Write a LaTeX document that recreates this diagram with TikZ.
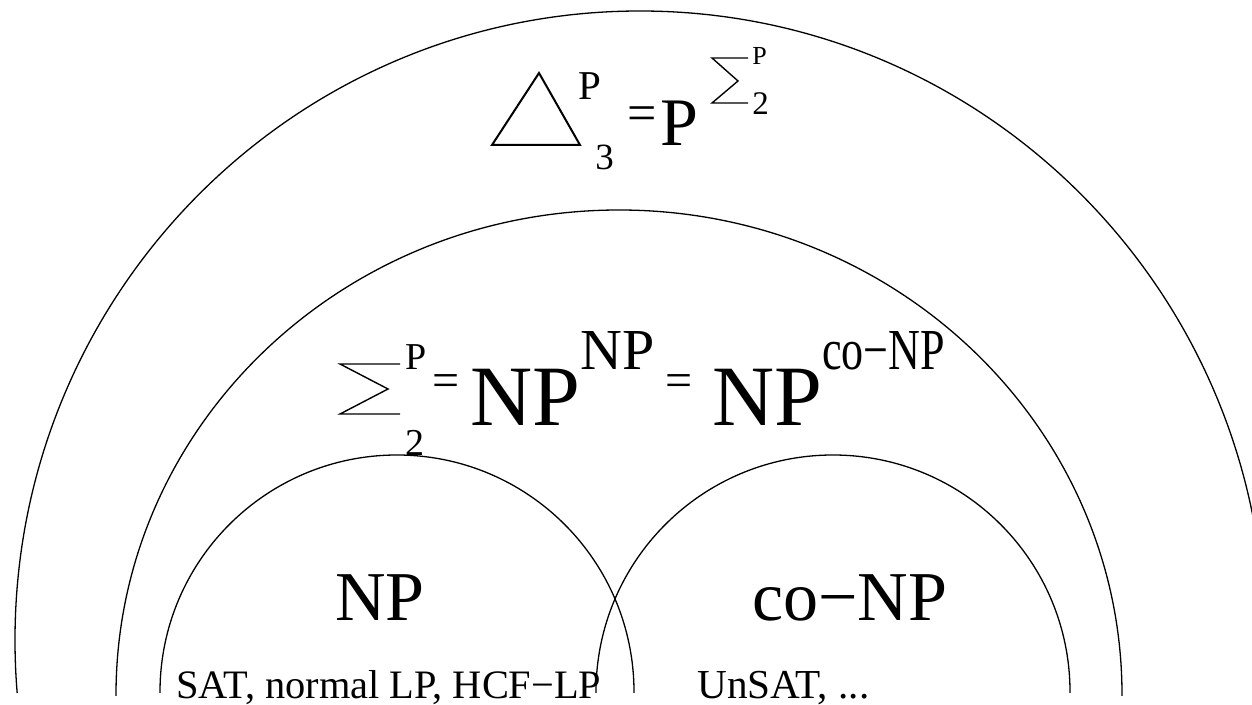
\documentclass[tikz,border=0pt]{standalone}
\usepackage{fontspec}
\setmainfont{Liberation Serif}
\newcommand{\fs}[1]{\fontsize{#1}{#1}\selectfont}
\begin{document}
\begin{tikzpicture}[x=0.5pt,y=-0.5pt,
  lbl/.style={inner sep=0pt, anchor=base west},
  arcline/.style={line width=0.65pt},
  symline/.style={line width=0.7pt, line join=miter}]
\useasboundingbox (0,0) rectangle (1252,705);
% outer class
\begin{scope}
  \clip (0,0) rectangle (1252,692);
  \draw[arcline] (640,640) ellipse [x radius=625, y radius=629];
\end{scope}
% Sigma_2^P
\begin{scope}
  \clip (0,0) rectangle (1252,695);
  \draw[arcline] (619,695) ellipse [x radius=503, y radius=485];
\end{scope}
% NP
\begin{scope}
  \clip (0,0) rectangle (1252,692);
  \draw[arcline] (397,692) circle [radius=237];
\end{scope}
% co-NP
\begin{scope}
  \clip (0,0) rectangle (1252,692);
  \draw[arcline] (833,692) circle [radius=237];
\end{scope}
% formula 1
\draw[line width=1pt, line join=miter] (492,145) -- (580,145) -- (539,73) -- cycle;
\node[lbl, font=\fs{20.5}] (t1p) at (578,100) {P};
\node[lbl, font=\fs{18.5}] (t13) at (595,170) {3};
\node[lbl, font=\fs{26}] (t1eq) at (627,131) {=};
\node[lbl, font=\fs{34}] (t1P) at (660,146) {P};
\draw[symline] (748,58) -- (712,58) -- (738,81) -- (712,103) -- (748,103);
\node[lbl, font=\fs{13}] (t1sp) at (752,65) {P};
\node[lbl, font=\fs{16.5}] (t1s2) at (752,115) {2};
% formula 2
\draw[symline] (400,364) -- (340,364) -- (388,389) -- (340,414) -- (400,414);
\node[lbl, font=\fs{19}] (t2p) at (405,370) {P};
\node[lbl, font=\fs{19}] (t22) at (405,455) {2};
\node[lbl, font=\fs{24}] (t2eq) at (432,397) {=};
\node[lbl, font=\fs{43}] (t2np) at (470,425) {NP};
\node[lbl, font=\fs{29}] (t2nps) at (580,370) {NP};
\node[lbl, font=\fs{24}] (t2eqb) at (665,397) {=};
\node[lbl, font=\fs{43}] (t2npb) at (712,425) {NP};
\node[lbl, font=\fs{29}, xscale=0.76] (t2co) at (822,370) {co−NP};
% circle labels
\node[lbl, font=\fs{35}] (np) at (335,620) {NP};
\node[lbl, font=\fs{35}] (conp) at (752,620) {co−NP};
\node[lbl, font=\fs{20.2}] (sat) at (176,698) {SAT, normal LP, HCF−LP};
\node[lbl, font=\fs{20.6}] (unsat) at (697,698) {UnSAT, ...};
\end{tikzpicture}
\end{document}
